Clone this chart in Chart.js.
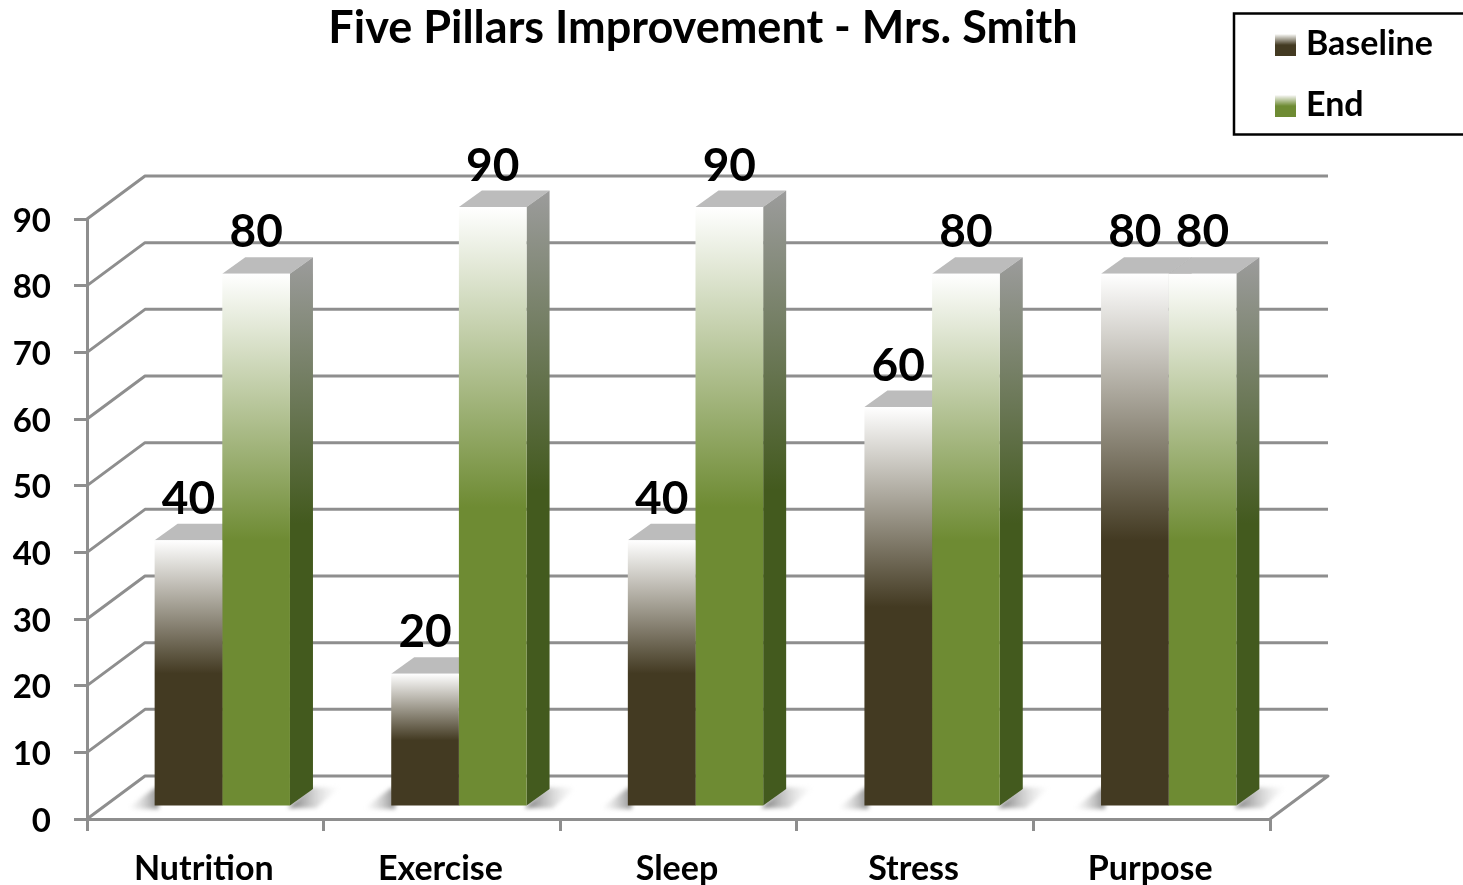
<!DOCTYPE html>
<html>
<head>
<meta charset="utf-8">
<style>html,body{margin:0;padding:0;background:#fff;overflow:hidden}canvas{display:block}</style>
<script src="https://cdn.jsdelivr.net/npm/chart.js@4"></script>
</head>
<body>
<canvas id="c" width="1463" height="885"></canvas>
<script>
const categories = ['Nutrition', 'Exercise', 'Sleep', 'Stress', 'Purpose'];
const baselineValues = [40, 20, 40, 60, 80];
const endValues = [80, 90, 90, 80, 80];
const seriesNames = ['Baseline', 'End'];
const chartTitle = 'Five Pillars Improvement - Mrs. Smith';

const FONT = 'Lato, Carlito, sans-serif';
const GRID = '#8e8e8e';
const WALL = {dx: 58, dy: -43};
const SHIFT = {dx: 17, dy: -12};
const DEPTH = {dx: 23, dy: -16.5};
const DARK = ['#433a22', '#6e8b33'];
const SIDE = ['#3c3319', '#435a1e'];

function frontGradient(ctx, y0, y1, color) {
  const g = ctx.createLinearGradient(0, y0, 0, y1);
  g.addColorStop(0, '#ffffff');
  g.addColorStop(0.5, color);
  g.addColorStop(1, color);
  return g;
}
function barFill(index) {
  return (c) => {
    if (c.type !== 'data') return DARK[index];
    const y = c.chart.scales.y;
    const y0 = y.getPixelForValue(c.parsed.y), y1 = y.getPixelForValue(0);
    if (!isFinite(y0) || !isFinite(y1)) return DARK[index];
    return frontGradient(c.chart.ctx, y0, y1, DARK[index]);
  };
}
function swatch(color) {
  const s = document.createElement('canvas');
  s.width = 21; s.height = 23;
  const x = s.getContext('2d');
  const g = x.createLinearGradient(0, 2, 0, 23);
  g.addColorStop(0, '#f4f4f0');
  g.addColorStop(0.5, color);
  g.addColorStop(1, color);
  x.fillStyle = g;
  x.fillRect(0, 2, 21, 21);
  return s;
}
const swatches = DARK.map(swatch);

function poly(ctx, pts, fill) {
  ctx.beginPath();
  pts.forEach((p, i) => i ? ctx.lineTo(p[0], p[1]) : ctx.moveTo(p[0], p[1]));
  ctx.closePath();
  ctx.fillStyle = fill;
  ctx.fill();
}

const scene = {
  id: 'scene',
  afterLayout(chart) {
    const l = chart.legend;
    l.left = 1255; l.right = 1463; l.top = 0; l.bottom = 400;
    l.width = 208; l.height = 400;
    chart.titleBlock.left = 0;
    chart.titleBlock.right = 1406;
    chart.titleBlock.width = 1406;
  },
  beforeDatasetsDraw(chart) {
    const {ctx, scales: {x, y}, chartArea: a} = chart;
    ctx.save();
    ctx.strokeStyle = GRID;
    ctx.lineWidth = 3;
    ctx.lineJoin = 'round';
    y.ticks.forEach((t) => {
      const py = y.getPixelForValue(t.value);
      ctx.beginPath();
      ctx.moveTo(a.left, py);
      ctx.lineTo(a.left + WALL.dx, py + WALL.dy);
      ctx.lineTo(a.right + WALL.dx, py + WALL.dy);
      if (t.value === 0) ctx.lineTo(a.right, py);
      ctx.stroke();
    });
    // floor shadows
    const base = y.getPixelForValue(0) + SHIFT.dy;
    ctx.save();
    ctx.filter = 'blur(2px)';
    categories.forEach((_, i) => {
      const b0 = chart.getDatasetMeta(0).data[i], b1 = chart.getDatasetMeta(1).data[i];
      const l = b0.x - b0.width / 2 + SHIFT.dx, r = b1.x + b1.width / 2 + SHIFT.dx;
      let g = ctx.createLinearGradient(l - 26, 0, l + 2, 0);
      g.addColorStop(0, 'rgba(170,170,170,0)');
      g.addColorStop(1, 'rgba(100,100,100,0.65)');
      poly(ctx, [[l - 28, base + 2], [l, base - 19], [l + 4, base - 19], [l + 4, base + 2]], g);
      g = ctx.createLinearGradient(r, 0, r + 50, 0);
      g.addColorStop(0, 'rgba(80,80,80,0.75)');
      g.addColorStop(1, 'rgba(200,200,200,0)');
      poly(ctx, [[r - 2, base + 1], [r + DEPTH.dx - 4, base + DEPTH.dy - 3], [r + 50, base + DEPTH.dy - 3], [r + 26, base + 1]], g);
    });
    ctx.restore();
    // bar tops and sides
    [0, 1].forEach((di) => {
      chart.getDatasetMeta(di).data.forEach((b) => {
        const l = b.x - b.width / 2 + SHIFT.dx, r = b.x + b.width / 2 + SHIFT.dx;
        const t = b.y + SHIFT.dy, bt = b.base + SHIFT.dy;
        poly(ctx, [[l, t], [l + DEPTH.dx, t + DEPTH.dy], [r + DEPTH.dx, t + DEPTH.dy], [r, t]], '#bcbcbc');
        const g = ctx.createLinearGradient(0, t + DEPTH.dy, 0, bt + DEPTH.dy);
        g.addColorStop(0, '#9c9c9c');
        g.addColorStop(0.5, SIDE[di]);
        g.addColorStop(1, SIDE[di]);
        poly(ctx, [[r, t], [r + DEPTH.dx, t + DEPTH.dy], [r + DEPTH.dx, bt + DEPTH.dy], [r, bt]], g);
      });
    });
    ctx.restore();
    ctx.save();
    ctx.translate(SHIFT.dx, SHIFT.dy);
  },
  afterDatasetsDraw(chart) {
    const {ctx} = chart;
    ctx.restore();
    ctx.save();
    ctx.fillStyle = '#000';
    ctx.font = 'bold 46px ' + FONT;
    ctx.textAlign = 'center';
    ctx.textBaseline = 'middle';
    [0, 1].forEach((di) => {
      chart.getDatasetMeta(di).data.forEach((b, i) => {
        ctx.fillText(String(chart.data.datasets[di].data[i]), b.x + SHIFT.dx, b.y + SHIFT.dy - 41);
      });
    });
    ctx.restore();
  },
  afterDraw(chart) {
    const {ctx} = chart;
    ctx.save();
    ctx.strokeStyle = '#000';
    ctx.lineWidth = 2.5;
    ctx.strokeRect(1234, 13.5, 240, 121);
    ctx.restore();
  }
};

new Chart(document.getElementById('c'), {
  type: 'bar',
  data: {
    labels: categories,
    datasets: [
      {label: seriesNames[0], data: baselineValues, backgroundColor: barFill(0), borderWidth: 0},
      {label: seriesNames[1], data: endValues, backgroundColor: barFill(1), borderWidth: 0}
    ]
  },
  plugins: [scene],
  options: {
    responsive: false,
    animation: false,
    devicePixelRatio: 1,
    layout: {padding: {left: 0, right: 193, top: 0, bottom: 0}},
    datasets: {bar: {barPercentage: 1, categoryPercentage: 0.572}},
    plugins: {
      tooltip: {enabled: false},
      title: {
        display: true, text: chartTitle, color: '#000',
        font: {family: FONT, size: 45, weight: 'bold'},
        padding: {top: 1, bottom: 164}
      },
      legend: {
        position: 'chartArea', align: 'start',
        labels: {
          usePointStyle: true, boxWidth: 7, padding: 27, color: '#000',
          font: {family: FONT, size: 34, weight: 'bold'},
          generateLabels(chart) {
            return Chart.defaults.plugins.legend.labels.generateLabels(chart).map((it, i) => {
              it.pointStyle = swatches[i];
              return it;
            });
          }
        }
      }
    },
    scales: {
      x: {
        afterFit(s) { s.height = 66; },
        border: {color: GRID, width: 3},
        grid: {drawOnChartArea: false, color: GRID, lineWidth: 3, tickLength: 12, offset: true},
        ticks: {color: '#000', padding: 18, maxRotation: 0, autoSkip: false, labelOffset: -1.5,
          font: {family: FONT, size: 34, weight: 'bold'}}
      },
      y: {
        min: 0, max: 90,
        afterFit(s) { s.width = 87; },
        border: {color: GRID, width: 3},
        grid: {drawOnChartArea: false, color: GRID, lineWidth: 3, tickLength: 13},
        ticks: {stepSize: 10, color: '#000', padding: 23, labelOffset: 2,
          font: {family: FONT, size: 33, weight: 'bold'}}
      }
    }
  }
});
</script>
</body>
</html>
